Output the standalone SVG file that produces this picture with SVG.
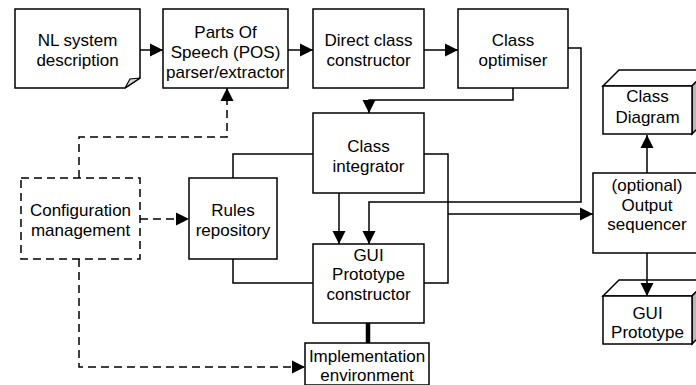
<svg xmlns="http://www.w3.org/2000/svg" width="696" height="385" viewBox="0 0 696 385">
  <style>
    .box { fill: #fff; stroke: #000; stroke-width: 1.5; }
    .dbox { fill: #fff; stroke: #000; stroke-width: 1.5; stroke-dasharray: 8 5; }
    .side { fill: #b8b8b8; stroke: #000; stroke-width: 1.5; }
    .fold { fill: #d8d8d8; stroke: #000; stroke-width: 1.2; }
    .lbl { font-family: "Liberation Sans", Arial, sans-serif; font-size: 17px; fill: #000; text-anchor: middle; }
    .ln { fill: none; stroke: #000; stroke-width: 1.5; }
    .arr { fill: none; stroke: #000; stroke-width: 1.5; marker-end: url(#head); }
    .dash { fill: none; stroke: #000; stroke-width: 1.5; stroke-dasharray: 8 5; }
    .darr { fill: none; stroke: #000; stroke-width: 1.5; stroke-dasharray: 8 5; marker-end: url(#head); }
  </style>
  <defs>
    <marker id="head" markerUnits="userSpaceOnUse" markerWidth="14" markerHeight="14" viewBox="0 0 14 14" refX="13" refY="7" orient="auto">
      <path d="M0,0.5 L13,7 L0,13.5 Z" fill="#000"/>
    </marker>
  </defs>

  <rect width="696" height="385" fill="#fff"/>

  <g id="nl-description">
    <path class="box" d="M15,9 H140 V78 L125,88 H15 Z"/>
    <path class="fold" d="M125,88 L130,79 L140,78 Z"/>
    <text class="lbl" x="77.5" y="46">NL system</text>
    <text class="lbl" x="77.5" y="66">description</text>
  </g>

  <g id="pos-parser">
    <rect class="box" x="163" y="9" width="125" height="79"/>
    <text class="lbl" x="225.5" y="38">Parts Of</text>
    <text class="lbl" x="225.5" y="58">Speech (POS)</text>
    <text class="lbl" x="225.5" y="78">parser/extractor</text>
  </g>

  <g id="direct-class">
    <rect class="box" x="313" y="9" width="111" height="79"/>
    <text class="lbl" x="368.5" y="46">Direct class</text>
    <text class="lbl" x="368.5" y="66">constructor</text>
  </g>

  <g id="class-optimiser">
    <rect class="box" x="458" y="9" width="110" height="79"/>
    <text class="lbl" x="513" y="46">Class</text>
    <text class="lbl" x="513" y="66">optimiser</text>
  </g>

  <g id="class-integrator">
    <rect class="box" x="313" y="113" width="111" height="80"/>
    <text class="lbl" x="368.5" y="152">Class</text>
    <text class="lbl" x="368.5" y="172">integrator</text>
  </g>

  <g id="rules-repository">
    <rect class="box" x="189" y="178" width="88" height="81"/>
    <text class="lbl" x="233" y="216">Rules</text>
    <text class="lbl" x="233" y="236">repository</text>
  </g>

  <g id="config-management">
    <rect class="dbox" x="21" y="178" width="119" height="81"/>
    <text class="lbl" x="80.5" y="216">Configuration</text>
    <text class="lbl" x="80.5" y="236">management</text>
  </g>

  <g id="gui-constructor">
    <rect class="box" x="313" y="244" width="111" height="79"/>
    <text class="lbl" x="368.5" y="261">GUI</text>
    <text class="lbl" x="368.5" y="280">Prototype</text>
    <text class="lbl" x="368.5" y="300">constructor</text>
  </g>

  <g id="implementation">
    <rect class="box" x="305" y="343" width="124" height="42"/>
    <text class="lbl" x="367" y="362">Implementation</text>
    <text class="lbl" x="367" y="381">environment</text>
  </g>

  <g id="output-sequencer">
    <rect class="box" x="593" y="173" width="110" height="80"/>
    <text class="lbl" x="647" y="191">(optional)</text>
    <text class="lbl" x="647" y="211">Output</text>
    <text class="lbl" x="647" y="230">sequencer</text>
  </g>

  <g id="class-diagram">
    <polygon class="box" points="603,86 619,70 708,70 692,86"/>
    <polygon class="side" points="692,86 708,70 708,118 692,134"/>
    <rect class="box" x="603" y="86" width="89" height="48"/>
    <text class="lbl" x="647.5" y="102">Class</text>
    <text class="lbl" x="647.5" y="123">Diagram</text>
  </g>

  <g id="gui-prototype">
    <polygon class="box" points="603,296 619,280 708,280 692,296"/>
    <polygon class="side" points="692,296 708,280 708,328 692,344"/>
    <rect class="box" x="603" y="296" width="89" height="48"/>
    <text class="lbl" x="647.5" y="319">GUI</text>
    <text class="lbl" x="647.5" y="338">Prototype</text>
  </g>

  <!-- connectors, drawn last so arrowheads sit on top of the 3D boxes -->
  <g id="connectors">
    <line class="arr" x1="140" y1="50" x2="163" y2="50"/>
    <line class="arr" x1="288" y1="50" x2="313" y2="50"/>
    <line class="arr" x1="424" y1="50" x2="458" y2="50"/>
    <polyline class="arr" points="513,88 513,100 369,100 369,113"/>
    <line class="arr" x1="339" y1="193" x2="339" y2="244"/>
    <polyline class="arr" points="568,48 581,48 581,202 369,202 369,244"/>
    <!-- rules repository bracket -->
    <polyline class="ln" points="313,154 233,154 233,178"/>
    <polyline class="ln" points="233,259 233,283 313,283"/>
    <!-- right bracket feeding the output sequencer -->
    <polyline class="ln" points="424,154 448,154 448,283 424,283"/>
    <line class="arr" x1="448" y1="214" x2="593" y2="214"/>
    <line class="arr" x1="647" y1="173" x2="647" y2="135"/>
    <line class="arr" x1="647" y1="253" x2="647" y2="296"/>
    <!-- thick link to implementation environment -->
    <line x1="368" y1="323" x2="368" y2="343" stroke="#000" stroke-width="4.5"/>
    <!-- configuration management links -->
    <polyline class="darr" points="79,178 79,137 227,137 227,88"/>
    <line class="darr" x1="140" y1="219" x2="189" y2="219"/>
    <polyline class="darr" points="79,259 79,367 305,367"/>
  </g>
</svg>
